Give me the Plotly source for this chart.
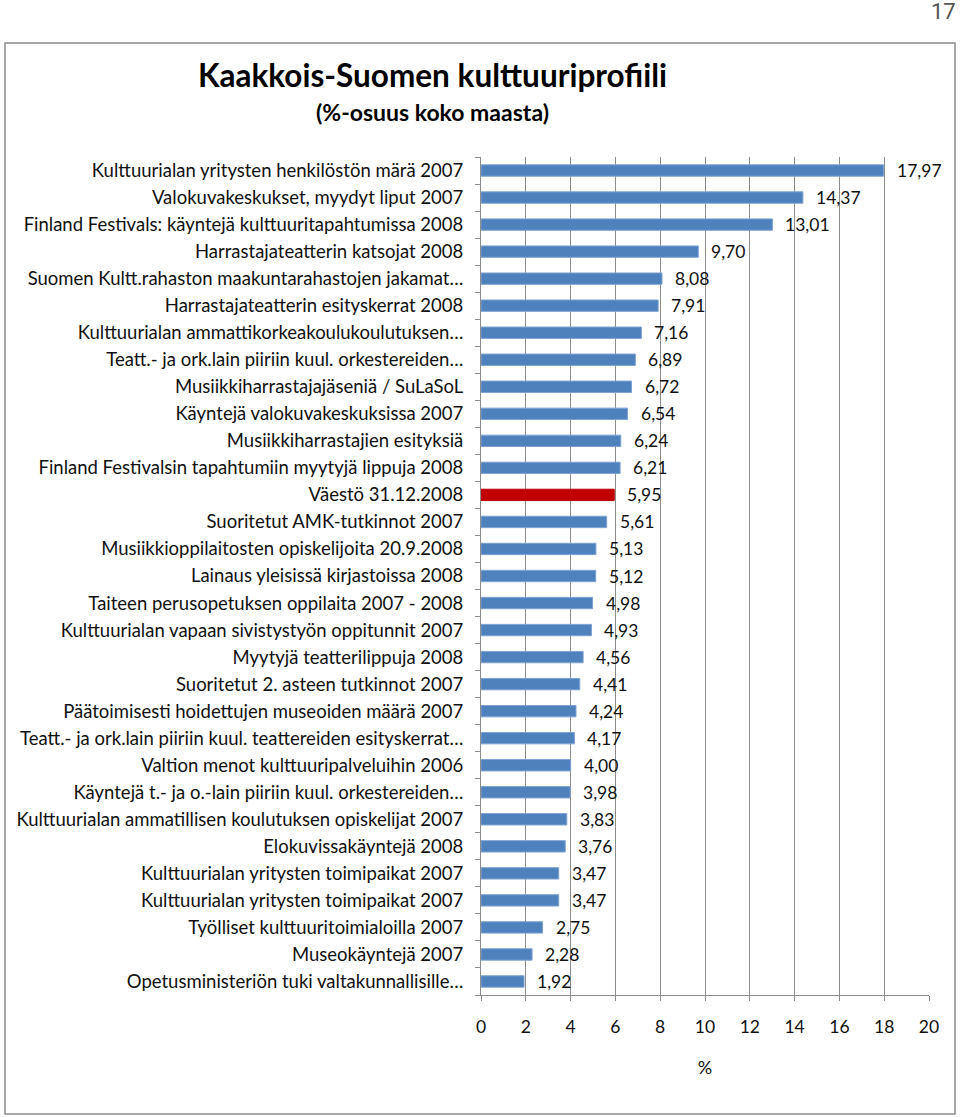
import plotly.graph_objects as go

labels = [
    "Kulttuurialan yritysten henkilöstön märä 2007",
    "Valokuvakeskukset, myydyt liput 2007",
    "Finland Festivals: käyntejä kulttuuritapahtumissa 2008",
    "Harrastajateatterin katsojat 2008",
    "Suomen Kultt.rahaston maakuntarahastojen jakamat…",
    "Harrastajateatterin esityskerrat 2008",
    "Kulttuurialan ammattikorkeakoulukoulutuksen…",
    "Teatt.- ja ork.lain piiriin kuul. orkestereiden…",
    "Musiikkiharrastajajäseniä / SuLaSoL",
    "Käyntejä valokuvakeskuksissa 2007",
    "Musiikkiharrastajien esityksiä",
    "Finland Festivalsin tapahtumiin myytyjä lippuja 2008",
    "Väestö 31.12.2008",
    "Suoritetut AMK-tutkinnot 2007",
    "Musiikkioppilaitosten opiskelijoita 20.9.2008",
    "Lainaus yleisissä kirjastoissa 2008",
    "Taiteen perusopetuksen oppilaita 2007 - 2008",
    "Kulttuurialan vapaan sivistystyön oppitunnit 2007",
    "Myytyjä teatterilippuja 2008",
    "Suoritetut 2. asteen tutkinnot 2007",
    "Päätoimisesti hoidettujen museoiden määrä 2007",
    "Teatt.- ja ork.lain piiriin kuul. teattereiden esityskerrat…",
    "Valtion menot kulttuuripalveluihin 2006",
    "Käyntejä t.- ja o.-lain piiriin kuul. orkestereiden…",
    "Kulttuurialan ammatillisen koulutuksen opiskelijat 2007",
    "Elokuvissakäyntejä 2008",
    "Kulttuurialan yritysten toimipaikat 2007",
    "Kulttuurialan yritysten toimipaikat 2007",
    "Työlliset kulttuuritoimialoilla 2007",
    "Museokäyntejä 2007",
    "Opetusministeriön tuki valtakunnallisille…",
]
values = [17.97, 14.37, 13.01, 9.70, 8.08, 7.91, 7.16, 6.89, 6.72, 6.54, 6.24,
          6.21, 5.95, 5.61, 5.13, 5.12, 4.98, 4.93, 4.56, 4.41, 4.24, 4.17,
          4.00, 3.98, 3.83, 3.76, 3.47, 3.47, 2.75, 2.28, 1.92]
highlight = "Väestö 31.12.2008"
x_ticks = [0, 2, 4, 6, 8, 10, 12, 14, 16, 18, 20]

title = "Kaakkois-Suomen kulttuuriprofiili"
subtitle = "(%-osuus koko maasta)"
x_title = "%"
page_no = "17"

W, H = 960, 1117
L, R, T, B = 481, 31, 157, 122
PW, PH = W - L - R, H - T - B

def px(x):
    return (x - L) / PW

def py(y):
    return 1 - (y - T) / PH

pos = list(range(len(labels)))
colors = ["#C00000" if l == highlight else "#4F81BD" for l in labels]
lines = ["#C00000" if l == highlight else "#7EA2D2" for l in labels]

FONT = "Lato"
LAB = 18.5
NUM = 17.5

fig = go.Figure()
fig.add_trace(go.Bar(
    x=values, y=pos, orientation="h",
    marker=dict(color=colors, line=dict(color=lines, width=1)),
    width=0.42,
    hoverinfo="x",
))

for v, p in zip(values, pos):
    fig.add_annotation(
        x=v, y=p, xref="x", yref="y",
        text=f"{v:.2f}".replace(".", ","),
        showarrow=False, xanchor="left", xshift=11,
        font=dict(family=FONT, size=NUM, color="#111"),
    )

fig.update_layout(
    width=W, height=H,
    margin=dict(l=L, r=R, t=T, b=B),
    paper_bgcolor="white", plot_bgcolor="white",
    showlegend=False,
    font=dict(family=FONT, size=LAB, color="#111"),
    xaxis=dict(
        range=[0, 20], tickvals=x_ticks, ticktext=[str(t) for t in x_ticks],
        showgrid=True, gridcolor="#8C8C8C", gridwidth=1,
        showline=True, linecolor="#8C8C8C", linewidth=1,
        ticks="outside", ticklen=5, tickcolor="#8C8C8C",
        ticklabelstandoff=11,
        tickfont=dict(family=FONT, size=NUM, color="#111"),
        zeroline=False,
        title=dict(text=x_title, font=dict(family=FONT, size=18, color="#111"), standoff=25),
    ),
    yaxis=dict(
        range=[len(labels) - 0.5, -0.5],
        tickmode="array", tickvals=pos, ticktext=labels,
        ticks="", showgrid=False,
        showline=True, linecolor="#8C8C8C", linewidth=1,
        ticklabelstandoff=13,
        tickfont=dict(family=FONT, size=LAB, color="#111"),
        minor=dict(tickmode="array", tickvals=[p - 0.5 for p in pos] + [len(labels) - 0.5],
                   ticks="outside", ticklen=5, tickcolor="#8C8C8C", showgrid=False),
        zeroline=False,
    ),
    shapes=[dict(type="rect", xref="paper", yref="paper",
                 x0=px(5), x1=px(955), y0=py(1114), y1=py(43),
                 line=dict(color="#8C8C8C", width=1.5), fillcolor="rgba(0,0,0,0)", layer="below")],
)

fig.add_annotation(x=px(432), y=py(75), xref="paper", yref="paper", text=f"<b>{title}</b>",
                   showarrow=False, xanchor="center", yanchor="middle",
                   font=dict(family=FONT, size=31.5, color="#000"))
fig.add_annotation(x=px(432), y=py(112), xref="paper", yref="paper", text=f"<b>{subtitle}</b>",
                   showarrow=False, xanchor="center", yanchor="middle",
                   font=dict(family=FONT, size=23, color="#000"))
fig.add_annotation(x=px(958), y=py(11), xref="paper", yref="paper", text=page_no,
                   showarrow=False, xanchor="right", yanchor="middle",
                   font=dict(family="Roboto", size=22, color="#555"))

fig.write_html("out.html", config={"displayModeBar": False},
               post_script="document.body.style.margin='0';document.body.style.overflow='hidden';")
